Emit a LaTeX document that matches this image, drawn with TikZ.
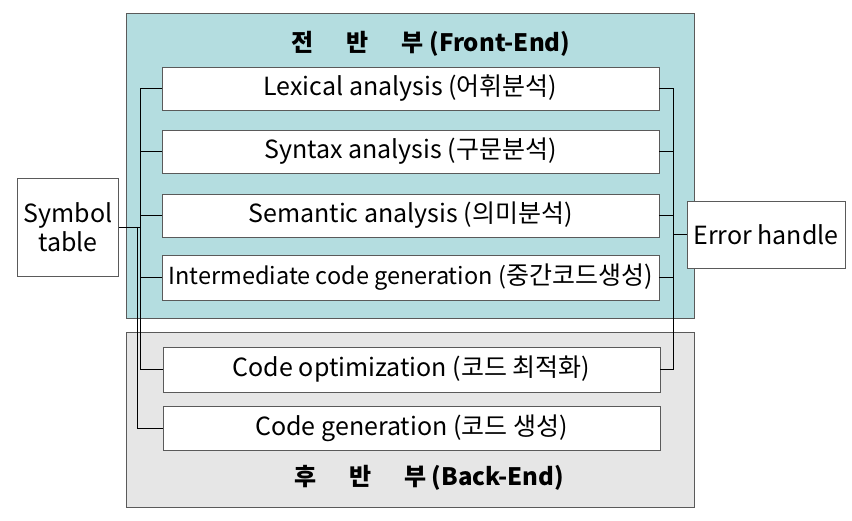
\documentclass[tikz,border=0pt]{standalone}
\usepackage{fontspec}
\setmainfont{Noto Sans CJK KR}
\usepackage{xcolor}
\usetikzlibrary{positioning}

\definecolor{frontfill}{RGB}{180,221,224}
\definecolor{backfill}{RGB}{230,230,230}
\definecolor{edgegray}{RGB}{90,90,90}

\begin{document}
\begin{tikzpicture}[x=1pt, y=-1pt,
    stage/.style={draw=edgegray, fill=white, minimum width=497pt, minimum height=43pt, inner sep=0pt, font=\fontsize{25}{28}\selectfont},
    side/.style={draw=edgegray, fill=white, inner sep=0pt, align=center, font=\fontsize{25}{29}\selectfont},
    title/.style={font=\bfseries\fontsize{24}{28}\selectfont},
    bus/.style={draw=black, line width=0.8pt}]
    \useasboundingbox (0,0) rectangle (852,521);

    % Front-end area
    \draw[fill=frontfill, draw=edgegray] (126,13) rectangle (694,318);
    \node[title] (fronttitle) at (431,44) {전\hspace{33pt}반\hspace{33pt}부 (Front-End)};

    % Back-end area
    \draw[fill=backfill, draw=edgegray] (126,332) rectangle (694,507);
    \node[title] (backtitle) at (429,478) {후\hspace{33pt}반\hspace{33pt}부 (Back-End)};

    % Phases
    \node[stage] (lex) at (410.5,88.5) {Lexical analysis (어휘분석)};
    \node[stage] (syn) at (410.5,151.5) {Syntax analysis (구문분석)};
    \node[stage] (sem) at (410.5,215.5) {Semantic analysis (의미분석)};
    \node[stage, minimum height=45pt, font=\fontsize{23.5}{26}\selectfont] (mid) at (410.5,277.5) {Intermediate code generation (\fontsize{25}{28}\selectfont 중간코드생성)};
    \node[stage, minimum height=45pt] (opt) at (411.5,369.5) {Code optimization (코드 최적화)};
    \node[stage, minimum height=44pt] (gen) at (411.5,428) {Code generation (코드 생성)};

    % Side tables
    \node[side, minimum width=101pt, minimum height=98pt] (sym) at (68,227) {Symbol\\table};
    \node[side, minimum width=158pt, minimum height=67pt] (err) at (766,234.5) {Error handle};

    % Buses
    \coordinate (lbus) at (140,0);
    \coordinate (lbustwo) at (137,0);
    \coordinate (rbus) at (673,0);

    % Symbol table links
    \draw[bus] (lex.west) -| (lbus |- opt.west) -- (opt.west);
    \foreach \n in {syn,sem,mid}
        \draw[bus] (\n.west) -- (lbus |- \n.west);
    \draw[bus] (sym.east) -- (lbus |- sym.east);
    \draw[bus] (lbustwo |- sym.east) |- (gen.west);

    % Error handler links
    \draw[bus] (lex.east) -| (rbus |- opt.east) -- (opt.east);
    \foreach \n in {syn,sem,mid}
        \draw[bus] (\n.east) -- (rbus |- \n.east);
    \draw[bus] (err.west) -- (rbus |- err.west);
\end{tikzpicture}
\end{document}
